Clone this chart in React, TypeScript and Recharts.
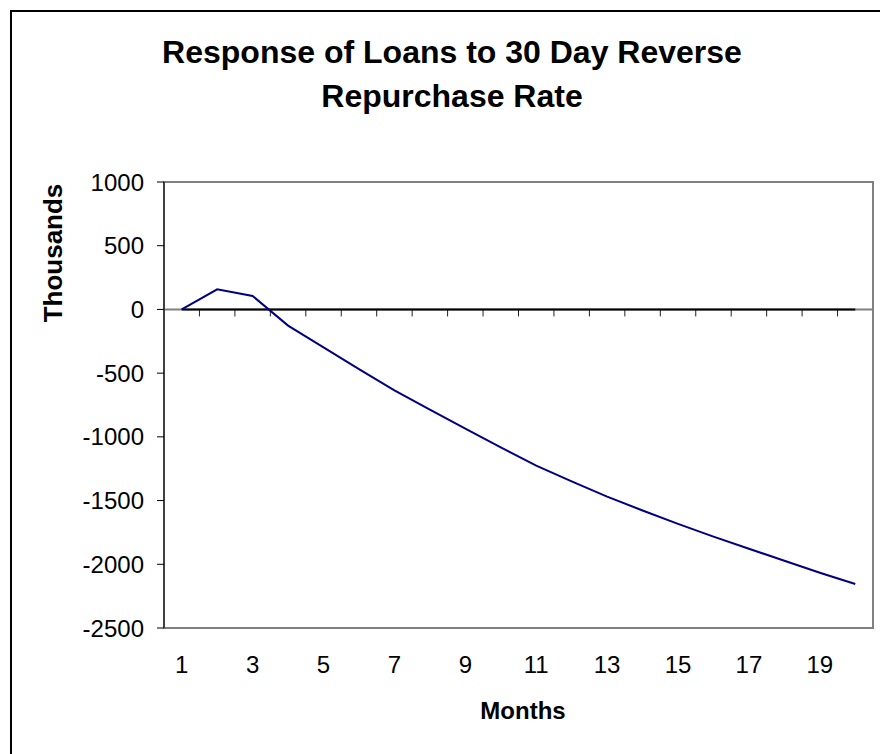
import React from 'react';
import { LineChart, Line, XAxis, YAxis, ReferenceLine, ReferenceArea } from 'recharts';

const months = ['1', '2', '3', '4', '5', '6', '7', '8', '9', '10', '11', '12', '13', '14', '15', '16', '17', '18', '19', '20'];
const loans = [0, 158, 106, -127, -298, -468, -635, -787, -935, -1083, -1226, -1350, -1469, -1578, -1683, -1783, -1878, -1972, -2066, -2155];
const baseline = [0, 0, 0, 0, 0, 0, 0, 0, 0, 0, 0, 0, 0, 0, 0, 0, 0, 0, 0, 0];
const yTicks = [-2500, -2000, -1500, -1000, -500, 0, 500, 1000];

const font = '"Liberation Sans", Arial, sans-serif';

const data = months.map((m, i) => ({ month: m, loans: loans[i], zero: baseline[i] }));

// category axis sitting on y = 0, with ticks between the months
const ZeroAxis = (props: any) => {
  const { x1, y1, x2, y2 } = props;
  const step = (x2 - x1) / months.length;
  return (
    <g>
      <line x1={x1} y1={y1} x2={x2} y2={y2} stroke="#808080" strokeWidth={2} />
      {months.slice(1).map((m, i) => (
        <line
          key={m}
          x1={x1 + step * (i + 1)}
          x2={x1 + step * (i + 1)}
          y1={y1}
          y2={y1 + 7}
          stroke="#202020"
          strokeWidth={1}
        />
      ))}
    </g>
  );
};

export default function App() {
  return (
    <div style={{ position: 'absolute', left: 0, top: 0, width: 880, height: 754, overflow: 'hidden', background: '#fff' }}>
      <div
        style={{
          position: 'absolute',
          left: 10,
          top: 10,
          width: 900,
          height: 800,
          borderLeft: '2px solid #000',
          borderTop: '2px solid #000',
        }}
      />
      <div
        style={{
          position: 'absolute',
          left: 52,
          top: 30,
          width: 800,
          textAlign: 'center',
          fontFamily: font,
          fontWeight: 'bold',
          fontSize: 32,
          lineHeight: '44px',
        }}
      >
        Response of Loans to 30 Day Reverse
        <br />
        Repurchase Rate
      </div>
      <div
        style={{
          position: 'absolute',
          left: 423,
          top: 696,
          width: 200,
          textAlign: 'center',
          fontFamily: font,
          fontWeight: 'bold',
          fontSize: 24,
          lineHeight: '30px',
        }}
      >
        Months
      </div>
      <div
        style={{
          position: 'absolute',
          left: 53 - 100,
          top: 253 - 15,
          width: 200,
          textAlign: 'center',
          fontFamily: font,
          fontWeight: 'bold',
          fontSize: 26,
          lineHeight: '30px',
          transform: 'rotate(-90deg)',
        }}
      >
        Thousands
      </div>
      <LineChart
        width={880}
        height={754}
        data={data}
        margin={{ top: 182, right: 7, bottom: 86, left: 0 }}
        style={{ position: 'absolute', left: 0, top: 0 }}
      >
        <ReferenceArea y1={-2500} y2={1000} fill="none" stroke="#808080" strokeWidth={2} />
        <XAxis
          dataKey="month"
          scale="band"
          interval={1}
          height={40}
          axisLine={false}
          tickLine={false}
          tickSize={6}
          tickMargin={22}
          tick={{ fontFamily: font, fontSize: 24, fill: '#000' }}
        />
        <YAxis
          type="number"
          domain={[-2500, 1000]}
          ticks={yTicks}
          width={164}
          interval={0}
          tickSize={7}
          tickMargin={13}
          axisLine={{ stroke: '#000', strokeWidth: 1 }}
          tickLine={{ stroke: '#000', strokeWidth: 1 }}
          tick={{ fontFamily: font, fontSize: 24, fill: '#000' }}
        />
        <ReferenceLine y={0} shape={ZeroAxis} />
        <Line dataKey="zero" stroke="#000" strokeWidth={2} dot={false} isAnimationActive={false} />
        <Line dataKey="loans" stroke="#000080" strokeWidth={2} dot={false} isAnimationActive={false} />
      </LineChart>
    </div>
  );
}
